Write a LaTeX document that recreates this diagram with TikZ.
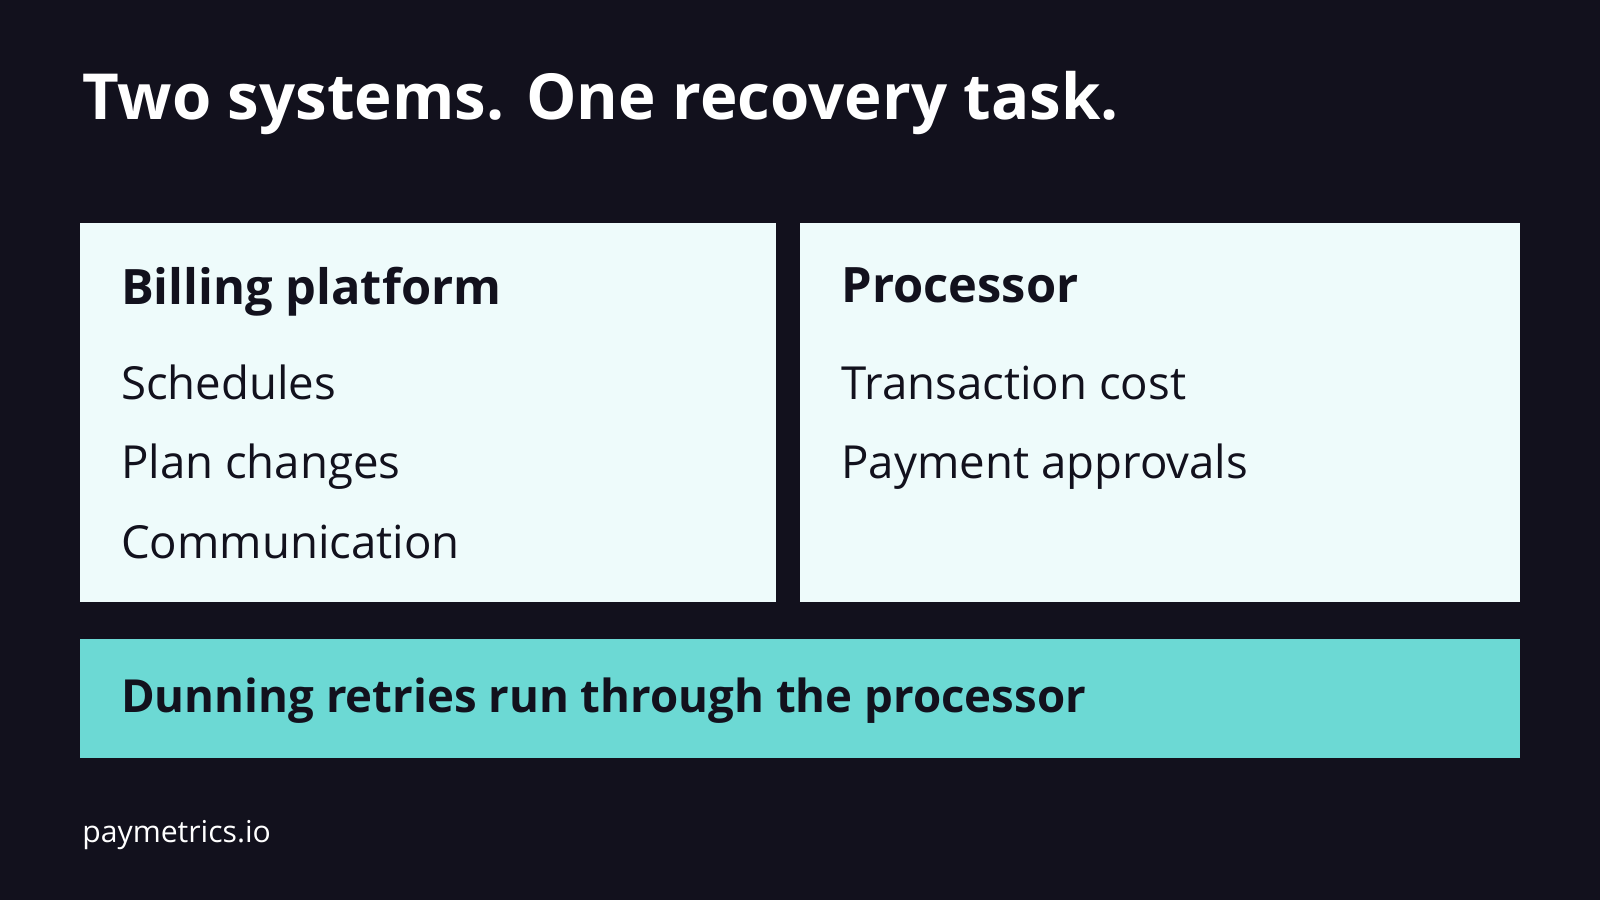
\documentclass[tikz,border=0pt]{standalone}
\usepackage{fontspec}
\setmainfont{Open Sans}
\usetikzlibrary{positioning}
\definecolor{bgdark}{HTML}{12111D}
\definecolor{cardfill}{HTML}{EEFBFB}
\definecolor{tealfill}{HTML}{6CD9D4}
\definecolor{inkdark}{HTML}{12111D}
\begin{document}
\begin{tikzpicture}[x=0.01cm, y=-0.01cm,
    card/.style={fill=cardfill, draw=none},
    head/.style={anchor=base west, inner sep=0pt, text=inkdark, font=\fontsize{13.6}{16}\selectfont\bfseries},
    item/.style={anchor=base west, inner sep=0pt, text=inkdark, font=\fontsize{12.7}{15}\selectfont}
]

% Background
\fill[bgdark] (0,0) rectangle (1568,882);
\useasboundingbox (0,0) rectangle (1568,882);

% Title
\node[anchor=base west, inner sep=0pt, text=white, font=\fontsize{17.7}{20}\selectfont\bfseries] (title) at (80,117) {Two systems. One recovery task.};

% Cards
\fill[card] (78,219) rectangle (760,590);
\fill[card] (784,219) rectangle (1490,590);
\fill[tealfill] (78,626) rectangle (1490,743);

% Billing platform
\node[head] (billing) at (118,298) {Billing platform};
\node[item] (sched) at (118,392) {Schedules};
\node[item] (plan) at (118,469) {Plan changes};
\node[item] (comm) at (118,547) {Communication};

% Processor
\node[head] (proc) at (824,296) {Processor};
\node[item] (cost) at (824,392) {Transaction cost};
\node[item] (appr) at (824,469) {Payment approvals};

% Banner
\node[head, font=\fontsize{12.7}{15}\selectfont\bfseries] (dunning) at (118,698) {Dunning retries run through the processor};

% Footer
\node[anchor=base west, inner sep=0pt, text=white, font=\fontsize{8.4}{10}\selectfont] (site) at (80,826) {paymetrics.io};

\end{tikzpicture}
\end{document}
